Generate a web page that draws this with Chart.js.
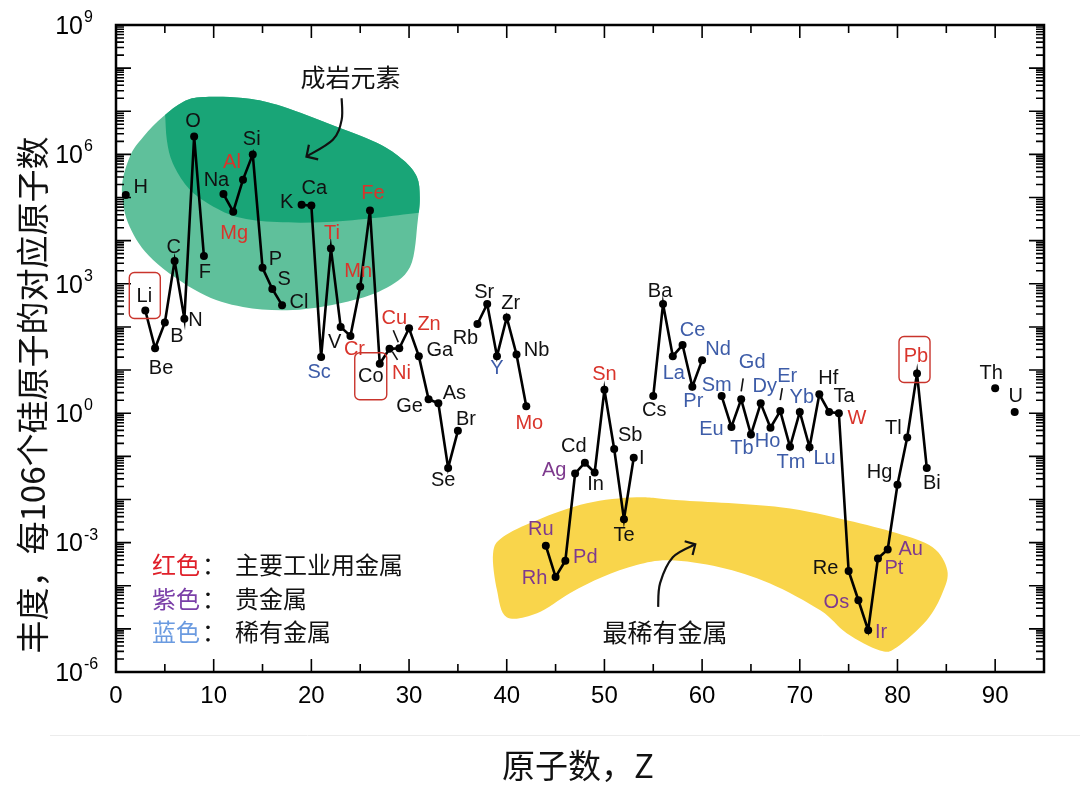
<!DOCTYPE html>
<html lang="zh">
<head>
<meta charset="utf-8">
<title>元素丰度</title>
<script src="https://cdn.jsdelivr.net/npm/chart.js@4.4.1/dist/chart.umd.min.js"></script>
<style>
    html, body { margin: 0; padding: 0; background: #fff; }
    #grafico { display: block; }
</style>
</head>
<body>
<canvas id="grafico" width="1080" height="791"></canvas>
<script>
// Dados (abundância por 10^6 átomos de Si)
const numeroAtomico = [1, 3, 4, 5, 6, 7, 8, 9, 11, 12, 13, 14, 15, 16, 17,
    19, 20, 21, 22, 23, 24, 25, 26, 27, 28, 29, 30, 31, 32, 33, 34, 35,
    37, 38, 39, 40, 41, 42, 44, 45, 46, 47, 48, 49, 50, 51, 52, 53,
    55, 56, 57, 58, 59, 60, 62, 63, 64, 65, 66, 67, 68, 69, 70, 71, 72, 73, 74,
    75, 76, 77, 78, 79, 80, 81, 82, 83, 90, 92];

const simbolos = ["H", "Li", "Be", "B", "C", "N", "O", "F", "Na", "Mg", "Al", "Si", "P", "S", "Cl",
    "K", "Ca", "Sc", "Ti", "V", "Cr", "Mn", "Fe", "Co", "Ni", "Cu", "Zn", "Ga", "Ge", "As", "Se", "Br",
    "Rb", "Sr", "Y", "Zr", "Nb", "Mo", "Ru", "Rh", "Pd", "Ag", "Cd", "In", "Sn", "Sb", "Te", "I",
    "Cs", "Ba", "La", "Ce", "Pr", "Nd", "Sm", "Eu", "Gd", "Tb", "Dy", "Ho", "Er", "Tm", "Yb", "Lu", "Hf", "Ta", "W",
    "Re", "Os", "Ir", "Pt", "Au", "Hg", "Tl", "Pb", "Bi", "Th", "U"];

const abundancia = [1.15e5, 240, 32, 126, 3400, 155, 2.6e6, 4400, 1.2e5, 4.7e4, 2.6e5, 1.0e6, 2350, 760, 320,
    6.8e4, 6.5e4, 20, 6600, 100, 62, 850, 5.0e4, 14, 31, 32, 93, 21, 2.1, 1.7, 0.054, 0.39,
    117, 340, 21, 166, 23, 1.45, 8.5e-4, 1.6e-4, 3.8e-4, 0.040, 0.071, 0.042, 3.5, 0.148, 3.5e-3, 0.093,
    2.5, 340, 21, 38, 4.1, 17, 2.5, 0.48, 2.1, 0.32, 1.7, 0.46, 1.12, 0.166, 1.07, 0.162, 2.75, 1.07, 1.0,
    2.2e-4, 4.6e-5, 9.3e-6, 4.3e-4, 6.9e-4, 0.022, 0.275, 8.3, 0.054, 3.8, 1.07];

const metaisIndustriais = ["Al", "Mg", "Ti", "Mn", "Fe", "Cr", "Ni", "Cu", "Zn", "Mo", "Sn", "W", "Pb"];
const metaisPreciosos = ["Ru", "Rh", "Pd", "Ag", "Os", "Ir", "Pt", "Au"];
const metaisRaros = ["Sc", "Y", "La", "Ce", "Pr", "Nd", "Sm", "Eu", "Gd", "Tb", "Dy", "Ho", "Er", "Tm", "Yb", "Lu"];
const destacados = ["Li", "Co", "Pb"];

const expoentesY = [-6, -3, 0, 3, 6, 9];
const rotulosX = [0, 10, 20, 30, 40, 50, 60, 70, 80, 90];

// Posição dos rótulos (deslocamento em px a partir do ponto)
const posRotulo = {
    H: [15, -7], Li: [-1, -14], Be: [6, 20], B: [12, 14], C: [-1, -13], N: [11, 2], O: [-1, -15], F: [1, 16],
    Na: [-7, -14], Mg: [1, 22], Al: [-11, -17], Si: [-1, -15], P: [13, -8], S: [12, -9], Cl: [17, -3],
    K: [-15, -2], Ca: [3, -17], Sc: [-2, 15], Ti: [1, -15], V: [-6, 16], Cr: [4, 14], Mn: [-2, -15],
    Fe: [3, -17], Co: [-9, 13], Ni: [12, 25], Cu: [-5, -30], Zn: [20, -4], Ga: [21, -6], Ge: [-19, 7],
    As: [16, -10], Se: [-5, 13], Br: [8, -11], Rb: [-12, 14], Sr: [-3, -12], Y: [0, 12], Zr: [4, -14],
    Nb: [20, -4], Mo: [3, 17], Ru: [-5, -16], Rh: [-21, 2], Pd: [20, -3], Ag: [-21, -3], Cd: [-11, -16],
    In: [1, 12], Sn: [0, -15], Sb: [16, -14], Te: [0, 16], I: [8, 1], Cs: [1, 14], Ba: [-3, -13],
    La: [1, 17], Ce: [10, -15], Pr: [1, 15], Nd: [16, -11], Sm: [-5, -11], Eu: [-20, 3], Gd: [11, -37],
    Tb: [-9, 14], Dy: [4, -17], Ho: [-3, 14], Er: [7, -35], Tm: [1, 16], Yb: [2, -14], Lu: [15, 11],
    Hf: [9, -16], Ta: [15, -15], W: [18, 5], Re: [-23, -2], Os: [-22, 2], Ir: [13, 2], Pt: [16, 10],
    Au: [23, 0], Hg: [-18, -12], Tl: [-14, -9], Pb: [-1, -17], Bi: [5, 16], Th: [-4, -15], U: [1, -15]
};
const caixas = { Li: [-16, -38, 31, 46], Co: [-25, -11, 32, 47], Pb: [-18, -37, 31, 46] };
const guias = { Cu: [-6, -18, -1, -6], Ni: [3, 3, 8, 11], Gd: [2, -21, 0, -8], Er: [2, -23, 0, -11] };

// Manchas de fundo em coordenadas do gráfico [Z, log10]
const manchaVerde = [[0.6, 5.18], [1.4, 5.94], [2.8, 6.41], [4.8, 6.87], [6.9, 7.22], [8.9, 7.33], [13.0, 7.31],
    [16.5, 7.15], [21.6, 6.73], [26.7, 6.27], [29.4, 5.87], [30.8, 5.48], [31.1, 5.01], [30.9, 4.48],
    [30.1, 3.39], [27.3, 2.86], [23.2, 2.56], [18.1, 2.39], [13.0, 2.46], [8.6, 2.79], [3.8, 3.55], [1.4, 4.32]];
const limiteEscuro = [[4.6, 7.6], [5.0, 6.99], [5.2, 6.34], [5.8, 5.80], [7.3, 5.25], [9.3, 4.88], [12.4, 4.55],
    [16.5, 4.43], [21.6, 4.43], [26.7, 4.53], [30.8, 4.64], [33.5, 4.66]];
const manchaAmarela = [[38.6, -3.25], [39.0, -4.10], [40.0, -4.73], [43.1, -4.64], [46.5, -4.17], [49.8, -3.80],
    [53.3, -3.52], [56.7, -3.41], [61.8, -3.57], [66.9, -3.94], [72.1, -4.57], [74.8, -5.10], [78.2, -5.50],
    [79.9, -5.43], [83.0, -4.80], [84.6, -4.17], [85.1, -3.64], [83.6, -3.11], [79.9, -2.78], [74.8, -2.48],
    [68.0, -2.18], [57.7, -2.02], [53.3, -1.95], [48.2, -2.09], [43.1, -2.48], [39.6, -2.87]];
const setaVerde = [[23.1, 7.30], [23.1, 6.80], [22.2, 6.34], [19.5, 5.95]];
const setaAmarela = [[55.5, -4.49], [55.7, -3.94], [57.0, -3.34], [59.3, -3.04]];

const VERMELHO = "#d9342b", ROXO = "#7e3a8e", AZUL = "#3d5ca8";
const FONTE = "'Liberation Sans', Arial, sans-serif";
const FONTE_CJK = "'Noto Sans CJK SC', sans-serif";

// Monta os pontos, com null onde falta elemento (quebra a linha)
const pontos = [];
numeroAtomico.forEach((z, i) => {
    if (i > 0 && z - numeroAtomico[i - 1] > 1) pontos.push({ x: z - 1, y: null });
    pontos.push({ x: z, y: abundancia[i] });
});

function corDoElemento(s) {
    if (metaisIndustriais.includes(s)) return VERMELHO;
    if (metaisPreciosos.includes(s)) return ROXO;
    if (metaisRaros.includes(s)) return AZUL;
    return "#111";
}

function paraPixel(chart, p) {
    return [chart.scales.x.getPixelForValue(p[0]), chart.scales.y.getPixelForValue(Math.pow(10, p[1]))];
}

function curva(ctx, pts, fechada) {
    const n = pts.length;
    const get = (i) => fechada ? pts[(i + n) % n] : pts[Math.max(0, Math.min(n - 1, i))];
    ctx.moveTo(pts[0][0], pts[0][1]);
    const fim = fechada ? n : n - 1;
    for (let i = 0; i < fim; i++) {
        const p0 = get(i - 1), p1 = get(i), p2 = get(i + 1), p3 = get(i + 2);
        ctx.bezierCurveTo(p1[0] + (p2[0] - p0[0]) / 6, p1[1] + (p2[1] - p0[1]) / 6,
            p2[0] - (p3[0] - p1[0]) / 6, p2[1] - (p3[1] - p1[1]) / 6, p2[0], p2[1]);
    }
    if (fechada) ctx.closePath();
}

function seta(ctx, pts, tam) {
    ctx.beginPath();
    curva(ctx, pts, false);
    ctx.stroke();
    const a = pts[pts.length - 1], b = pts[pts.length - 2];
    const ang = Math.atan2(b[1] - a[1], b[0] - a[0]);
    ctx.beginPath();
    ctx.moveTo(a[0] + tam * Math.cos(ang - 0.8), a[1] + tam * Math.sin(ang - 0.8));
    ctx.lineTo(a[0], a[1]);
    ctx.lineTo(a[0] + tam * Math.cos(ang + 0.8), a[1] + tam * Math.sin(ang + 0.8));
    ctx.stroke();
}

const decoracao = {
    id: "decoracao",
    beforeDatasetsDraw(chart) {
        const ctx = chart.ctx, area = chart.chartArea;
        ctx.save();
        ctx.beginPath();
        ctx.rect(area.left, area.top, area.right - area.left, area.bottom - area.top);
        ctx.clip();

        // mancha verde (duas tonalidades)
        const verde = manchaVerde.map(p => paraPixel(chart, p));
        ctx.beginPath();
        curva(ctx, verde, true);
        ctx.fillStyle = "#5fc09b";
        ctx.fill();
        ctx.save();
        ctx.clip();
        const lim = limiteEscuro.map(p => paraPixel(chart, p));
        ctx.beginPath();
        curva(ctx, lim, false);
        const ult = lim[lim.length - 1];
        ctx.lineTo(ult[0] + 40, ult[1]);
        ctx.lineTo(ult[0] + 40, area.top);
        ctx.lineTo(lim[0][0] - 10, area.top);
        ctx.closePath();
        ctx.fillStyle = "#19a577";
        ctx.fill();
        ctx.restore();

        // mancha amarela
        const amarela = manchaAmarela.map(p => paraPixel(chart, p));
        ctx.beginPath();
        curva(ctx, amarela, true);
        ctx.fillStyle = "#f9d54b";
        ctx.fill();
        ctx.restore();
    },
    afterDatasetsDraw(chart) {
        const ctx = chart.ctx, area = chart.chartArea;
        const x = chart.scales.x, y = chart.scales.y;
        ctx.save();

        // moldura e marcas para dentro
        ctx.strokeStyle = "#000";
        ctx.lineWidth = 2.5;
        ctx.strokeRect(area.left, area.top, area.right - area.left, area.bottom - area.top);
        ctx.lineWidth = 1.6;
        ctx.beginPath();
        x.ticks.forEach(t => {
            const px = x.getPixelForValue(t.value);
            if (px <= area.left + 1 || px >= area.right - 1) return;
            const len = t.value % 10 === 0 ? 13 : 8;
            ctx.moveTo(px, area.bottom); ctx.lineTo(px, area.bottom - len);
            ctx.moveTo(px, area.top); ctx.lineTo(px, area.top + len);
        });
        for (let e = -6; e < 9; e++) {
            for (let m = 1; m <= 9; m++) {
                const py = y.getPixelForValue(m * Math.pow(10, e));
                if (m === 1 && e === -6) continue;
                const len = m === 1 ? 15 : 8;
                ctx.moveTo(area.left, py); ctx.lineTo(area.left + len, py);
                ctx.moveTo(area.right, py); ctx.lineTo(area.right - len, py);
            }
        }
        ctx.stroke();

        // rótulos dos eixos
        ctx.fillStyle = "#000";
        ctx.font = "24px " + FONTE;
        ctx.textAlign = "center";
        ctx.textBaseline = "middle";
        rotulosX.forEach(v => ctx.fillText(String(v), x.getPixelForValue(v), area.bottom + 24));
        expoentesY.forEach(e => {
            const py = y.getPixelForValue(Math.pow(10, e));
            ctx.font = "25px " + FONTE;
            ctx.textAlign = "right";
            ctx.textBaseline = "middle";
            ctx.fillText("10", area.left - 33, py + 2);
            ctx.font = "16px " + FONTE;
            ctx.textAlign = "left";
            ctx.textBaseline = "alphabetic";
            ctx.fillText(String(e), area.left - 32, py - 3);
        });

        // rótulos dos elementos
        const meta = chart.getDatasetMeta(0);
        const porSimbolo = {};
        meta.data.forEach((el, i) => {
            const p = pontos[i];
            if (p.y === null) return;
            const k = numeroAtomico.indexOf(p.x);
            porSimbolo[simbolos[k]] = [el.x, el.y];
        });
        ctx.font = "20px " + FONTE;
        ctx.textAlign = "center";
        ctx.textBaseline = "middle";
        simbolos.forEach(s => {
            const pt = porSimbolo[s], d = posRotulo[s] || [0, -14];
            ctx.fillStyle = corDoElemento(s);
            ctx.fillText(s, pt[0] + d[0], pt[1] + d[1]);
        });
        ctx.strokeStyle = "#111";
        ctx.lineWidth = 1.6;
        Object.keys(guias).forEach(s => {
            const pt = porSimbolo[s], g = guias[s];
            ctx.beginPath();
            ctx.moveTo(pt[0] + g[0], pt[1] + g[1]);
            ctx.lineTo(pt[0] + g[2], pt[1] + g[3]);
            ctx.stroke();
        });
        ctx.strokeStyle = "#c9342c";
        ctx.lineWidth = 1.4;
        destacados.forEach(s => {
            const pt = porSimbolo[s], c = caixas[s];
            ctx.beginPath();
            ctx.roundRect(pt[0] + c[0], pt[1] + c[1], c[2], c[3], 5);
            ctx.stroke();
        });

        // setas e anotações
        ctx.strokeStyle = "#111";
        ctx.lineWidth = 2.2;
        seta(ctx, setaVerde.map(p => paraPixel(chart, p)), 12);
        seta(ctx, setaAmarela.map(p => paraPixel(chart, p)), 11);
        ctx.fillStyle = "#111";
        ctx.font = "25px " + FONTE_CJK;
        ctx.textAlign = "center";
        ctx.textBaseline = "middle";
        const t1 = paraPixel(chart, [24.0, 7.78]);
        ctx.fillText("成岩元素", t1[0], t1[1]);
        const t2 = paraPixel(chart, [56.2, -5.08]);
        ctx.fillText("最稀有金属", t2[0], t2[1]);

        // legenda de cores
        const legenda = [["红色", "#e0202a", "主要工业用金属"], ["紫色", "#7a3fa8", "贵金属"], ["蓝色", "#6b9be0", "稀有金属"]];
        ctx.font = "24px " + FONTE_CJK;
        ctx.textAlign = "left";
        legenda.forEach((l, i) => {
            const ly = area.bottom - 107 + i * 33.5;
            ctx.fillStyle = l[1];
            ctx.fillText(l[0], area.left + 36, ly);
            ctx.fillStyle = "#111";
            ctx.fillText("：", area.left + 86, ly);
            ctx.fillText(l[2], area.left + 119, ly);
        });

        // títulos dos eixos
        ctx.fillStyle = "#111";
        ctx.font = "33px " + FONTE_CJK;
        ctx.textAlign = "center";
        ctx.fillText("原子数，Z", 578, 765);
        ctx.save();
        ctx.translate(32, 395);
        ctx.rotate(-Math.PI / 2);
        ctx.fillText("丰度，每106个硅原子的对应原子数", 0, 0);
        ctx.restore();

        // linha clara de separação
        ctx.strokeStyle = "#ececec";
        ctx.lineWidth = 1;
        ctx.beginPath();
        ctx.moveTo(50, 735.5);
        ctx.lineTo(1080, 735.5);
        ctx.stroke();
        ctx.restore();
    }
};

let grafico;

function mostrarGrafico() {
    const ctx = document.getElementById("grafico").getContext("2d");
    if (grafico) grafico.destroy();

    grafico = new Chart(ctx, {
        type: "line",
        data: {
            datasets: [{
                label: "丰度",
                data: pontos,
                borderColor: "#000",
                borderWidth: 2.6,
                pointRadius: 4,
                pointBackgroundColor: "#000",
                pointBorderColor: "#000",
                pointBorderWidth: 0,
                spanGaps: false,
                tension: 0
            }]
        },
        options: {
            responsive: false,
            animation: false,
            devicePixelRatio: 1,
            layout: { padding: { left: 108, right: 36, top: 25, bottom: 111 } },
            scales: {
                x: {
                    type: "linear",
                    min: 0,
                    max: 95,
                    ticks: { display: false, stepSize: 5 },
                    grid: { display: false },
                    border: { display: false }
                },
                y: {
                    type: "logarithmic",
                    min: 1e-6,
                    max: 1e9,
                    ticks: { display: false },
                    grid: { display: false },
                    border: { display: false }
                }
            },
            plugins: {
                legend: { display: false },
                tooltip: { enabled: false }
            }
        },
        plugins: [decoracao]
    });
}

mostrarGrafico();
</script>
</body>
</html>
